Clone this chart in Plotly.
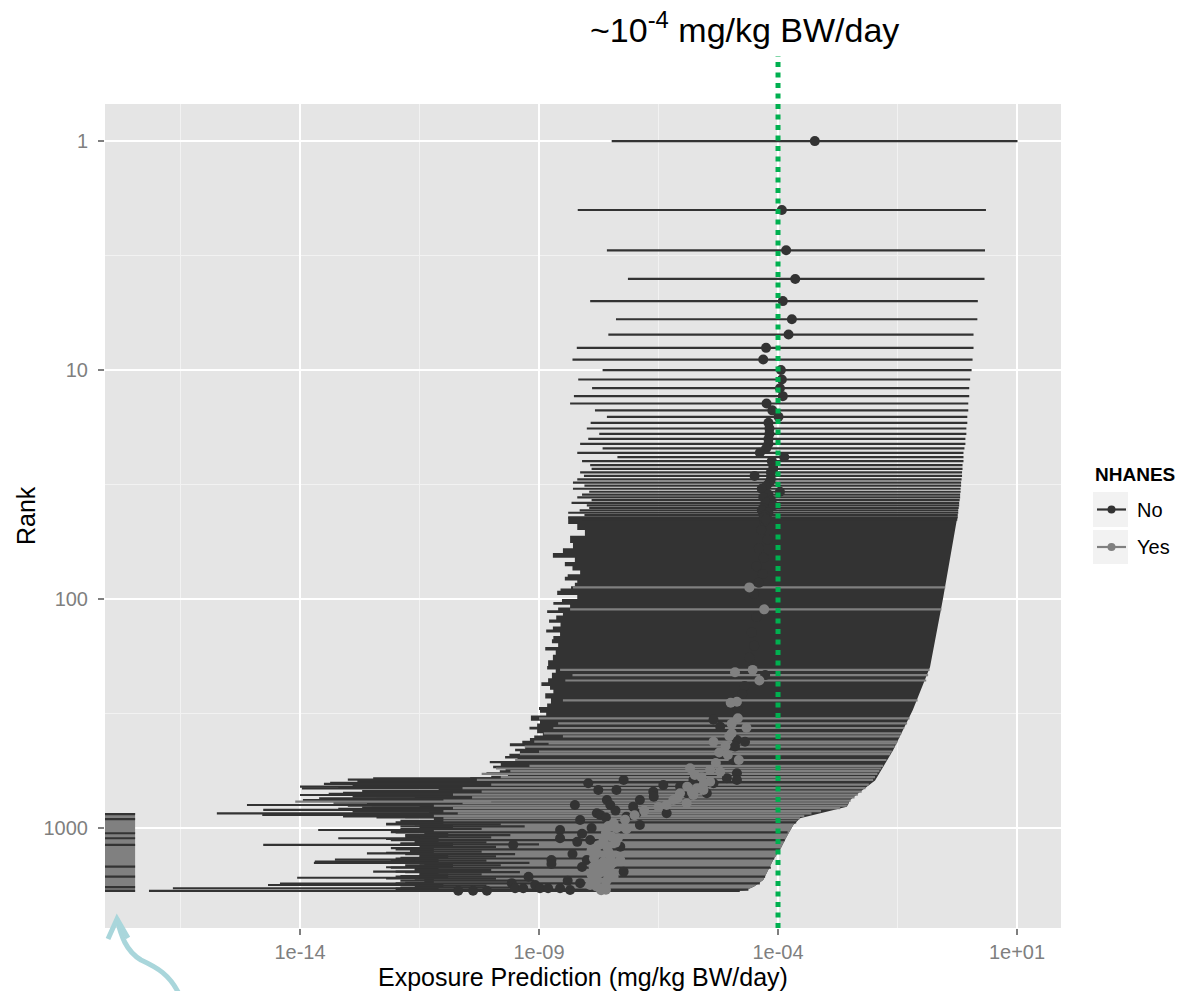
import numpy as np
import plotly.graph_objects as go

DARK = "#333333"
GREY = "#808080"
FONT = "Liberation Sans, Arial, Helvetica, sans-serif"

# ---------------- data (exposure values as log10 mg/kg BW/day) ----------------
# individually resolved chemicals, ranks 1-45 (all NHANES = No)
top_rank = list(range(1, 46))
top_lo = [-7.48, -8.19, -7.58, -7.14, -7.93, -7.39, -7.55, -8.21, -8.30, -7.67,
          -8.18, -7.89, -8.27, -8.35, -7.83, -7.58, -7.92, -8.00, -7.74, -7.97,
          -8.14, -7.67, -8.20, -7.36, -8.10, -7.93, -7.90, -8.14, -8.06, -8.20,
          -8.29, -8.05, -8.29, -7.95, -8.10, -8.20, -7.90, -8.32, -8.00, -7.95,
          -8.15, -8.39, -8.05, -8.39, -8.10]
top_hi = [1.01, 0.35, 0.33, 0.32, 0.18, 0.17, 0.09, 0.09, 0.07, 0.05,
          0.02, 0.00, 0.00, -0.02, -0.02, -0.04, -0.04, -0.06, -0.06, -0.08,
          -0.08, -0.10, -0.12, -0.12, -0.12, -0.14, -0.14, -0.15, -0.15, -0.16,
          -0.17, -0.17, -0.18, -0.18, -0.19, -0.19, -0.20, -0.21, -0.21, -0.22,
          -0.23, -0.23, -0.24, -0.24, -0.25]
top_med = [-3.23, -3.92, -3.83, -3.64, -3.90, -3.71, -3.78, -4.25, -4.31, -3.94,
           -3.92, -3.96, -3.90, -4.24, -4.12, -3.99, -4.20, -4.18, -4.18, -4.20,
           -4.20, -4.25, -4.38, -3.87, -4.13, -4.10, -4.10, -4.15, -4.49, -4.15,
           -4.18, -4.24, -4.34, -3.96, -4.20, -4.31, -4.15, -4.24, -4.10, -4.30,
           -4.34, -4.20, -4.28, -4.30, -4.25]

# dense block of chemicals (ranks 44-1890): left (lower) envelope
env_left_rank = [44, 47, 50, 53, 57, 60, 63, 66, 69, 72, 75, 78, 80, 83, 85, 88, 90, 92,
                 96, 100, 103, 106, 109, 112, 115, 118, 123, 127, 132, 136, 140, 145,
                 150, 156, 162, 168, 175, 185, 196, 203, 210, 222, 231, 240, 249, 258,
                 272, 286, 296, 305, 314, 323, 340, 350, 361, 372, 386, 395, 405, 416,
                 427, 440, 451, 462, 474, 485, 497, 510, 522, 535, 548, 560, 571, 582,
                 591, 600, 606, 612, 620, 628, 636, 645, 654, 663, 672, 682, 692, 702,
                 712, 723, 734, 745, 756, 768, 780, 792, 804, 816, 828, 841, 854, 867,
                 880, 894, 908, 922, 950, 975, 1000, 1030, 1055, 1080, 1105, 1130, 1155,
                 1180, 1210, 1240, 1270, 1300, 1335, 1370, 1405, 1440, 1470, 1500, 1535,
                 1570, 1605, 1640, 1680, 1720, 1755, 1790, 1820, 1850]
env_left_lo = [-8.39, -8.20, -8.04, -8.35, -8.29, -8.50, -8.71, -8.25, -8.46, -8.30,
               -8.14, -8.40, -8.46, -8.20, -8.25, -8.33, -8.55, -8.62, -8.20, -8.52,
               -8.70, -8.35, -8.60, -8.83, -8.50, -8.64, -8.79, -8.55, -8.71, -8.85,
               -8.56, -8.70, -8.73, -8.60, -8.87, -8.65, -8.71, -8.81, -8.83, -8.65,
               -8.73, -8.81, -8.95, -8.77, -8.70, -8.87, -8.75, -8.83, -9.00, -8.98,
               -8.85, -9.17, -8.98, -9.04, -9.20, -9.04, -8.92, -9.10, -9.19, -9.35,
               -9.61, -9.29, -9.50, -9.40, -9.62, -9.71, -9.45, -10.03, -9.80, -9.96,
               -9.70, -9.82, -10.10, -9.65, -10.00, -10.44, -11.0, -11.6, -10.9, -11.8,
               -11.2, -12.2, -11.4, -11.9, -11.1, -12.3, -11.5, -11.9, -11.2, -12.4,
               -11.6, -12.0, -11.3, -12.2, -11.7, -12.5, -11.5, -12.1, -11.4, -11.9,
               -11.3, -12.0, -11.5, -11.8, -11.2, -11.9, -12.2, -11.5, -11.9, -12.1,
               -11.4, -11.8, -12.2, -11.6, -11.9, -11.3, -12.1, -11.7, -12.2, -11.5,
               -11.9, -12.1, -11.4, -11.8, -12.2, -11.6, -12.0, -11.5, -11.9, -12.2,
               -11.4, -11.8, -12.1, -11.6, -12.0, -11.7]
env_bottom_rank = 1890
# right (upper) envelope
env_right_rank = [44, 50, 100, 198, 305, 457, 620, 700, 755, 807, 850, 877, 907, 971,
                  1092, 1248, 1376, 1687, 1800, 1865, 1890]
env_right_hi = [-0.25, -0.30, -0.55, -0.82, -1.18, -1.59, -1.97, -2.30, -2.49, -2.56,
                -2.95, -3.26, -3.54, -3.68, -3.82, -3.96, -4.10, -4.31, -4.50, -4.66,
                -4.90]

# NHANES = Yes block at the bottom (ranks 925-1882)
yes_left_rank = [925, 960, 1000, 1050, 1100, 1160, 1220, 1290, 1360, 1430, 1500,
                 1580, 1660, 1740, 1820]
yes_left_lo = [-11.0, -10.8, -11.2, -10.9, -11.1, -10.8, -11.2, -10.9, -11.1, -10.8,
               -11.1, -10.9, -11.2, -11.0, -11.1]
yes_bottom_rank = 1882
yes_right_rank = [925, 971, 1092, 1248, 1376, 1687, 1800, 1865, 1882]
yes_right_hi = [-3.60, -3.68, -3.82, -3.96, -4.10, -4.31, -4.50, -4.66, -4.80]

# individual NHANES = Yes ranges inside the dense block
grey_rank = [89, 111, 204, 215, 227, 277, 332, 349, 366, 386, 398, 420, 427, 441, 464,
             476, 505, 536, 550, 565, 580, 600, 617, 647, 670, 694, 715, 735, 760, 767,
             780, 800, 820, 845, 863, 885, 907]
grey_lo = [-8.29, -8.35, -8.56, -8.30, -8.45, -8.50, -9.00, -8.60, -8.70, -8.90, -8.50,
           -9.10, -8.80, -9.30, -9.00, -9.40, -9.50, -9.20, -9.90, -9.60, -10.2, -9.80,
           -10.3, -10.0, -10.6, -10.2, -10.8, -10.4, -11.0, -14.1, -10.6, -11.2, -10.8,
           -11.0, -10.7, -11.2, -11.0]
grey_hi = [-0.50, -0.58, -0.83, -0.86, -0.90, -1.08, -1.25, -1.30, -1.36, -1.42, -1.45,
           -1.50, -1.52, -1.56, -1.62, -1.65, -1.73, -1.80, -1.84, -1.88, -1.92, -1.97,
           -2.01, -2.10, -2.17, -2.25, -2.33, -2.40, -2.48, -10.0, -2.52, -2.56, -2.70,
           -3.10, -3.30, -3.45, -3.54]

# NHANES = No ranges crossing the bottom Yes block
stripe_rank = [945, 965, 985, 1010, 1045, 1075, 1100, 1130, 1155, 1180, 1210, 1240,
               1270, 1300, 1330, 1360, 1390, 1420, 1455, 1490, 1525, 1560, 1595, 1630,
               1665, 1700, 1745, 1785, 1820, 1860]
stripe_lo = [-12.0, -11.6, -11.9, -11.5, -12.0, -11.8, -11.5, -12.1, -11.6, -11.9,
             -11.5, -12.0, -11.6, -11.8, -11.5, -12.0, -11.6, -11.9, -11.5, -12.1,
             -11.6, -11.8, -11.5, -12.0, -11.6, -11.9, -12.0, -11.5, -11.9, -12.0]
stripe_hi = [-3.62, -9.8, -9.3, -10.2, -3.80, -9.6, -10.0, -3.86, -10.1, -9.0, -9.9,
             -3.96, -10.2, -9.5, -9.9, -4.08, -10.1, -9.2, -9.8, -4.15, -10.0, -9.4,
             -10.2, -4.27, -9.9, -9.1, -4.38, -10.1, -9.3, -4.62]

# NHANES = No ranges with very low lower bounds (upper ends lie inside the block)
long_rank = [608, 615, 625, 635, 642, 650, 660, 668, 671, 690, 702, 710, 718, 730, 742,
             755, 765, 775, 786, 794, 800, 815, 825, 834, 848, 863, 870, 877, 890, 900,
             1021, 1109, 1186, 1291, 1376, 1403, 1420, 1552, 1650, 1748, 1775, 1834]
long_lo = [-12.47, -13.0, -12.8, -13.37, -13.5, -12.9, -14.0, -13.2, -13.96, -12.7,
           -13.1, -13.4, -14.0, -12.9, -13.6, -13.94, -12.8, -13.3, -12.6, -15.11,
           -13.0, -12.7, -13.2, -14.77, -12.9, -15.74, -12.6, -14.79, -13.1, -12.4,
           -13.62, -13.2, -14.77, -12.6, -13.27, -13.69, -13.71, -12.47, -14.06,
           -14.42, -14.67, -16.66]
long_hi = [-9.0] * 42
# lowest-ranked chemical, drawn over everything
last_rank = [1884]
last_lo = [-17.16]
last_hi = [-4.80]

# chemicals with (near) zero lower bound, ranks 860-1900
zero_top_rank = 860
zero_bottom_rank = 1900
zero_lo = -18.6
zero_hi = -17.45
zero_dark_rank = [871, 916, 1055, 1109, 1186, 1476, 1632, 1815, 1884]

# median predictions
no_pt_rank = [46, 50, 55, 60, 66, 72, 78, 85, 95, 120, 140, 160, 180, 215, 240, 260,
              300, 337, 361, 413, 420, 441, 505, 577, 606, 617, 617, 617, 638, 638,
              659, 683, 683, 694, 706, 706, 755, 755, 794, 794, 807, 863, 863, 863,
              877, 893, 923, 970, 1021, 1109, 1128, 1186, 1207, 1381, 1381, 1436,
              1552, 1633, 1742, 1742, 1775, 1835, 1835, 1835, 1835, 1835, 1866,
              1882, 1882, 1882, 650, 730, 840, 900, 1000, 1060, 1150, 1300, 1480, 1700]
no_pt_med = [-4.28, -4.35, -4.22, -4.40, -4.30, -4.45, -4.32, -4.40, -4.50, -4.45,
             -4.55, -4.50, -4.60, -4.27, -4.70, -4.75, -4.85, -5.35, -5.21, -4.86,
             -4.69, -4.90, -4.93, -4.86, -5.07, -4.86, -5.77, -7.23, -5.35, -7.97,
             -6.05, -7.76, -7.38, -6.61, -5.49, -5.91, -6.89, -7.58, -8.25, -7.51,
             -7.03, -7.79, -6.96, -6.33, -7.72, -7.17, -8.14, -6.89, -8.56, -8.56,
             -7.93, -9.54, -7.30, -8.74, -8.00, -8.74, -7.23, -9.22, -9.57, -8.14,
             -9.08, -9.50, -9.33, -8.98, -8.81, -8.56, -8.35, -10.69, -10.38, -10.09,
             -6.40, -6.60, -7.40, -7.60, -7.90, -8.10, -8.20, -8.30, -8.10, -8.40]
yes_pt_rank = [89, 111, 204, 209, 227, 281, 284, 332, 351, 365, 386, 397, 420, 468, 505,
               549, 558, 568, 587, 628, 671, 683, 706, 718, 755, 780, 794, 954, 1003,
               1014, 1050, 1091, 1128, 1160, 1207, 1250, 1291, 1330, 1381, 1404, 1450,
               1476, 1520, 1552, 1600, 1633, 1688, 1720, 1775, 1800, 1835, 1860,
               440, 480, 520, 600, 640, 660, 700, 740, 810, 840, 880, 920, 980, 1110,
               1190, 1270, 1360, 1420, 1500, 1580, 1660, 1740, 1870]
yes_pt_med = [-4.60, -4.29, -4.53, -4.90, -4.39, -4.86, -4.99, -4.84, -4.97, -4.66,
              -4.97, -5.02, -5.35, -5.23, -4.82, -5.84, -5.42, -5.21, -5.74, -5.42,
              -5.70, -5.56, -6.05, -5.77, -6.19, -5.91, -6.33, -7.44, -7.38, -7.17,
              -7.60, -7.48, -7.65, -7.40, -7.58, -7.90, -7.79, -7.50, -7.30, -7.65,
              -7.50, -7.86, -7.70, -7.65, -7.90, -7.44, -7.79, -7.60, -7.93, -7.80,
              -7.72, -7.60, -5.10, -5.05, -5.30, -5.60, -5.55, -5.90, -5.80, -6.10,
              -6.50, -6.80, -7.00, -7.20, -7.55, -7.35, -7.75, -7.55, -7.85, -7.45,
              -7.60, -7.75, -7.55, -7.85, -7.70]

x_tick_vals = [1e-14, 1e-9, 1e-4, 1e1]
x_tick_text = ["1e-14", "1e-09", "1e-04", "1e+01"]
y_tick_vals = [1, 10, 100, 1000]
y_tick_text = ["1", "10", "100", "1000"]
threshold = 1e-4


# ---------------- helpers ----------------
def segments(rank, lo, hi):
    xs, ys = [], []
    for r, a, b in zip(rank, lo, hi):
        xs += [10.0 ** a, 10.0 ** b, None]
        ys += [r, r, None]
    return xs, ys


def step_polygon(l_rank, l_lo, bottom, r_rank, r_hi):
    xs, ys = [], []
    ends = list(l_rank[1:]) + [bottom]
    for r0, r1, a in zip(l_rank, ends, l_lo):
        xs += [10.0 ** a, 10.0 ** a]
        ys += [r0, r1]
    for r, b in zip(r_rank[::-1], r_hi[::-1]):
        xs.append(10.0 ** b)
        ys.append(r)
    return xs, ys


fig = go.Figure()


def add_poly(xs, ys, color):
    fig.add_trace(go.Scatter(x=xs, y=ys, mode="lines", fill="toself", fillcolor=color,
                             line=dict(width=0, color=color), hoverinfo="skip",
                             showlegend=False))


def add_lines(xs, ys, color, width=2.2):
    fig.add_trace(go.Scatter(x=xs, y=ys, mode="lines", line=dict(color=color, width=width),
                             hoverinfo="skip", showlegend=False, connectgaps=False))


# dense block of ranges (drawing order: dark mass, long No ranges, Yes block, Yes ranges)
add_poly(*step_polygon(env_left_rank, env_left_lo, env_bottom_rank,
                       env_right_rank, env_right_hi), DARK)
add_lines(*segments(long_rank, long_lo, long_hi), DARK)
add_poly(*step_polygon(yes_left_rank, yes_left_lo, yes_bottom_rank,
                       yes_right_rank, yes_right_hi), GREY)
add_poly(*step_polygon([zero_top_rank], [zero_lo], zero_bottom_rank,
                       [zero_top_rank, zero_bottom_rank], [zero_hi, zero_hi]), GREY)

add_lines(*segments(grey_rank, grey_lo, grey_hi), GREY)
add_lines(*segments(stripe_rank, stripe_lo, stripe_hi), DARK)
add_lines(*segments(last_rank, last_lo, last_hi), DARK)
add_lines(*segments(zero_dark_rank, [zero_lo] * len(zero_dark_rank),
                    [zero_hi] * len(zero_dark_rank)), DARK)
add_lines(*segments(top_rank, top_lo, top_hi), DARK)

# median points
fig.add_trace(go.Scatter(x=10.0 ** np.array(no_pt_med), y=no_pt_rank, mode="markers",
                         marker=dict(color=DARK, size=10), showlegend=False))
fig.add_trace(go.Scatter(x=10.0 ** np.array(top_med), y=top_rank, mode="markers",
                         marker=dict(color=DARK, size=10), showlegend=False))
fig.add_trace(go.Scatter(x=10.0 ** np.array(yes_pt_med), y=yes_pt_rank, mode="markers",
                         marker=dict(color=GREY, size=10), showlegend=False))

# ---------------- layout ----------------
L, R, T, B = 105, 135, 104, 63
W, H = 1196, 991
PW, PH = W - L - R, H - T - B


def px(x):
    return (x - L) / PW


def py(y):
    return (H - B - y) / PH


fig.update_layout(
    width=W, height=H, margin=dict(l=L, r=R, t=T, b=B, autoexpand=False),
    paper_bgcolor="white", plot_bgcolor="#E5E5E5", showlegend=False,
    font=dict(family=FONT),
    xaxis=dict(type="log", range=[-18.08, 1.92], tickmode="array",
               tickvals=x_tick_vals, ticktext=x_tick_text, showgrid=True,
               gridcolor="white", gridwidth=2, zeroline=False, showline=False,
               ticks="outside", ticklen=6, tickwidth=1.5, tickcolor="#7F7F7F",
               tickfont=dict(size=20, color="#7F7F7F", family=FONT),
               ticklabelstandoff=0,
               minor=dict(tickmode="array",
                          tickvals=[10 ** -16.5, 10 ** -11.5, 10 ** -6.5, 10 ** -1.5],
                          showgrid=True, gridcolor="#F2F2F2", gridwidth=1, ticks="")),
    yaxis=dict(type="log", range=[3.437, -0.162], tickmode="array",
               tickvals=y_tick_vals, ticktext=y_tick_text, showgrid=True,
               gridcolor="white", gridwidth=2, zeroline=False, showline=False,
               ticks="outside", ticklen=6, tickwidth=1.5, tickcolor="#7F7F7F",
               tickfont=dict(size=20, color="#7F7F7F", family=FONT),
               ticklabelstandoff=6,
               minor=dict(tickmode="array",
                          tickvals=[10 ** 0.5, 10 ** 1.5, 10 ** 2.5],
                          showgrid=True, gridcolor="#F2F2F2", gridwidth=1, ticks="")),
)

shapes = []
# threshold line at 1e-4 extending above the panel
shapes.append(dict(type="line", xref="x", yref="paper", x0=threshold, x1=threshold,
                   y0=0, y1=py(56), line=dict(color="#00B050", width=5, dash="5px,5.5px"),
                   layer="above"))
# legend keys
for top, bot, col in [(492, 527, DARK), (530, 564, GREY)]:
    shapes.append(dict(type="rect", xref="paper", yref="paper", x0=px(1093), x1=px(1128),
                       y0=py(bot), y1=py(top), fillcolor="#F2F2F2", line=dict(width=0)))
    cy = py((top + bot) / 2)
    shapes.append(dict(type="line", xref="paper", yref="paper", x0=px(1097), x1=px(1126),
                       y0=cy, y1=cy, line=dict(color=col, width=2.2)))
    shapes.append(dict(type="circle", xref="paper", yref="paper", xsizemode="pixel",
                       ysizemode="pixel", xanchor=px(1111.5), yanchor=cy,
                       x0=-4, x1=4, y0=-4, y1=4, fillcolor=col, line=dict(width=0)))
# curved arrow at bottom-left
arrow_col = "#A9D6DB"
shaft = "M {:.5f},{:.5f} C {:.5f},{:.5f} {:.5f},{:.5f} {:.5f},{:.5f} C {:.5f},{:.5f} {:.5f},{:.5f} {:.5f},{:.5f}".format(
    px(117), py(919), px(121), py(936), px(126), py(951), px(141), py(960),
    px(156), py(967), px(170), py(974), px(180), py(996))
head = "M {:.5f},{:.5f} L {:.5f},{:.5f} L {:.5f},{:.5f}".format(
    px(108), py(939), px(117), py(919), px(128), py(938))
for p in (shaft, head):
    shapes.append(dict(type="path", xref="paper", yref="paper", path=p,
                       line=dict(color=arrow_col, width=5), layer="above"))
fig.update_layout(shapes=shapes)

ann = [
    dict(text="<b>NHANES</b>", x=px(1093), y=py(474), xanchor="left", yanchor="middle",
         font=dict(size=19, color="black", family=FONT), showarrow=False),
    dict(text="No", x=px(1135), y=py(510), xanchor="left", yanchor="middle",
         font=dict(size=20, color="black", family=FONT), showarrow=False),
    dict(text="Yes", x=px(1135), y=py(547), xanchor="left", yanchor="middle",
         font=dict(size=20, color="black", family=FONT), showarrow=False),
    dict(text="Exposure Prediction (mg/kg BW/day)", x=0.5, y=py(977), xanchor="center",
         yanchor="middle", font=dict(size=25, color="black", family=FONT), showarrow=False),
    dict(text="Rank", x=px(26), y=0.5, xanchor="center", yanchor="middle", textangle=-90,
         font=dict(size=25, color="black", family=FONT), showarrow=False),
    dict(text="~10<sup>-4</sup> mg/kg BW/day", x=px(744), y=py(27), xanchor="center",
         yanchor="middle", font=dict(size=34, color="black", family=FONT), showarrow=False),
]
for a in ann:
    a.update(xref="paper", yref="paper")
fig.update_layout(annotations=ann)

fig.write_html("out.html")
